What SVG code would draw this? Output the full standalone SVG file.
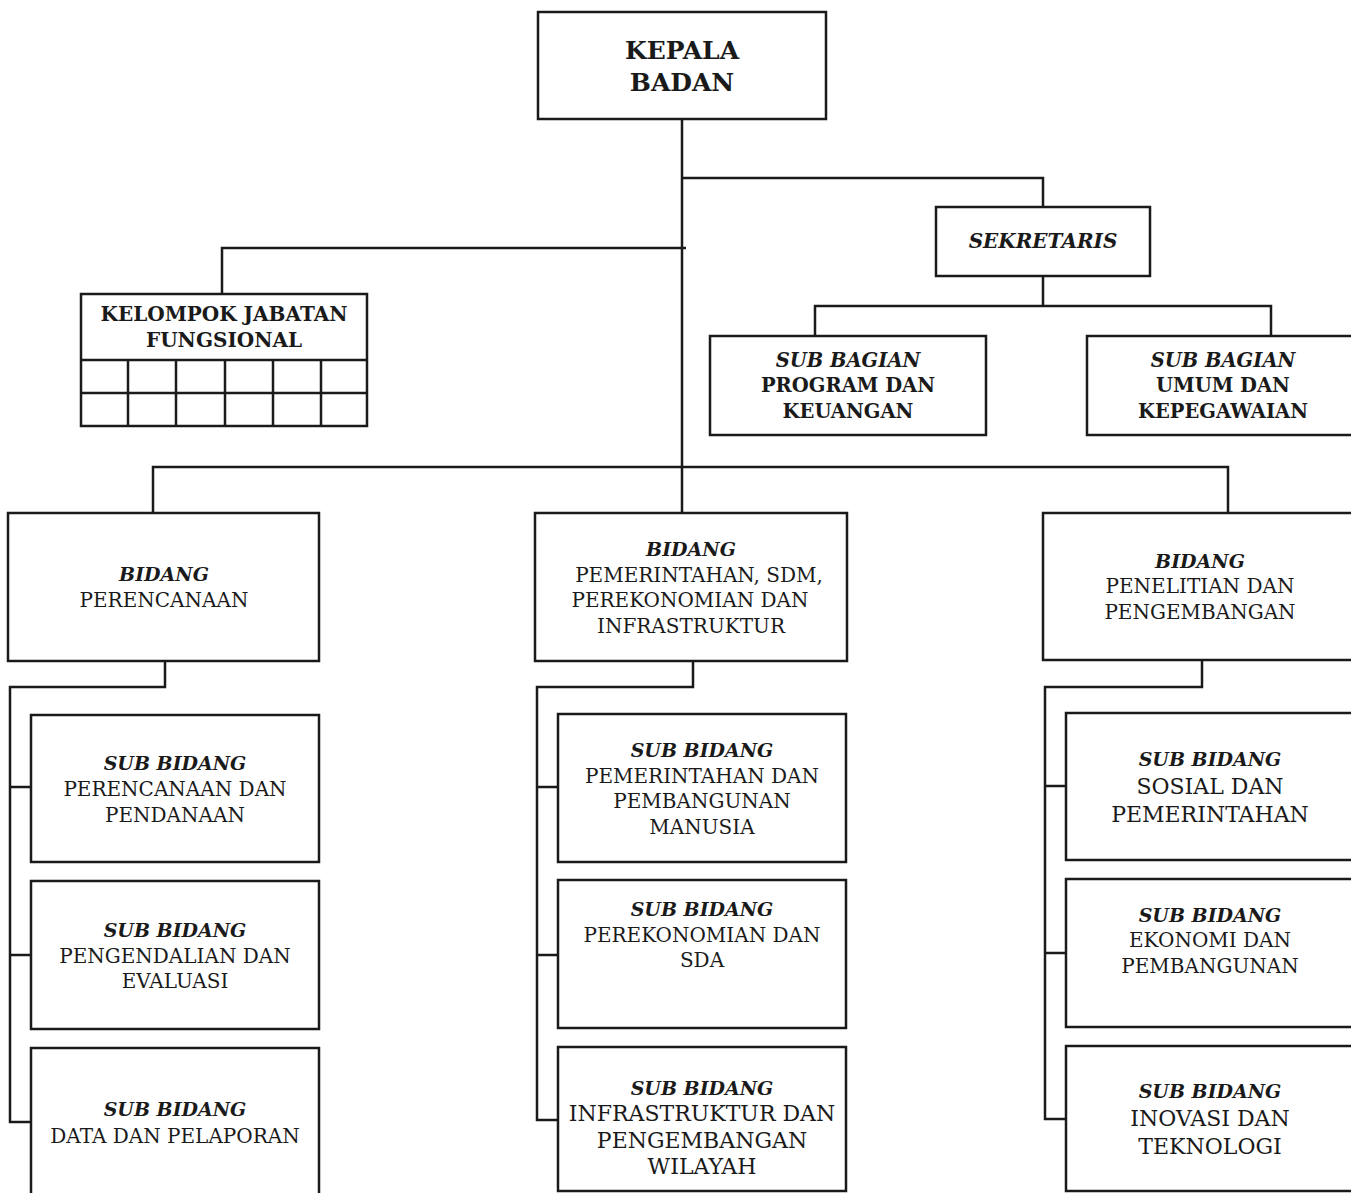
<svg xmlns="http://www.w3.org/2000/svg" width="1351" height="1193" viewBox="0 0 1351 1193">
<style>
.box{fill:#fff;stroke:#1a1a1a;stroke-width:2.5}
.ln{fill:none;stroke:#1a1a1a;stroke-width:2.5}
text{font-family:"DejaVu Serif","Liberation Serif",serif;fill:#1a1a1a;text-anchor:middle}
.b{font-weight:bold}
.bi{font-weight:bold;font-style:italic}
.r{font-size:20px}
.r2{font-size:22px}
.h{font-size:19px}
.hb{font-size:19.5px}
</style>
<rect width="1351" height="1193" fill="#fff"/>
<g id="connectors">
<path class="ln" d="M682 119V513"/>
<path class="ln" d="M682 178H1043V207"/>
<path class="ln" d="M1043 276V306M815 336V306H1271V336"/>
<path class="ln" d="M686 248H222V294"/>
<path class="ln" d="M153 513V467H1228V513"/>
<path class="ln" d="M165 661V687H10V1122H31M10 787H31M10 955H31"/>
<path class="ln" d="M693 661V687H537V1120H558M537 787H558M537 955H558"/>
<path class="ln" d="M1202 660V687H1045V1119H1066M1045 786H1066M1045 953H1066"/>
</g>
<g id="kepala">
<rect class="box" x="538" y="12" width="288" height="107"/>
<text class="b" x="682" y="59" font-size="25">KEPALA</text>
<text class="b" x="682" y="91" font-size="25">BADAN</text>
</g>
<g id="kjf">
<rect class="box" x="81" y="294" width="286" height="132"/>
<path class="ln" d="M81 360H367M81 393H367M128 360V426M176 360V426M225 360V426M273 360V426M321 360V426"/>
<text class="b" font-size="20" x="224" y="321">KELOMPOK JABATAN</text>
<text class="b" font-size="20" x="224" y="347">FUNGSIONAL</text>
</g>
<g id="sekretaris">
<rect class="box" x="936" y="207" width="214" height="69"/>
<text class="bi" font-size="20" x="1043" y="248">SEKRETARIS</text>
</g>
<g id="subbag-program">
<rect class="box" x="710" y="336" width="276" height="99"/>
<text class="bi hb" x="848" y="367">SUB BAGIAN</text>
<text class="b hb" x="848" y="392">PROGRAM DAN</text>
<text class="b hb" x="848" y="418">KEUANGAN</text>
</g>
<g id="subbag-umum">
<rect class="box" x="1087" y="336" width="266" height="99"/>
<text class="bi hb" x="1223" y="367">SUB BAGIAN</text>
<text class="b hb" x="1223" y="392">UMUM DAN</text>
<text class="b hb" x="1223" y="418">KEPEGAWAIAN</text>
</g>
<g id="bidang-perencanaan">
<rect class="box" x="8" y="513" width="311" height="148"/>
<text class="bi h" x="164" y="581">BIDANG</text>
<text class="r" x="164" y="607">PERENCANAAN</text>
</g>
<g id="bidang-pemerintahan">
<rect class="box" x="535" y="513" width="312" height="148"/>
<text class="bi h" x="691" y="556">BIDANG</text>
<text class="r" font-size="20.5" x="699" y="582">PEMERINTAHAN, SDM,</text>
<text class="r" font-size="20.5" x="690" y="607">PEREKONOMIAN DAN</text>
<text class="r" font-size="20.5" x="691" y="633">INFRASTRUKTUR</text>
</g>
<g id="bidang-penelitian">
<rect class="box" x="1043" y="513" width="310" height="147"/>
<text class="bi h" x="1200" y="568">BIDANG</text>
<text class="r" x="1200" y="593">PENELITIAN DAN</text>
<text class="r" x="1200" y="619">PENGEMBANGAN</text>
</g>
<g id="sb-perencanaan-pendanaan">
<rect class="box" x="31" y="715" width="288" height="147"/>
<text class="bi h" x="175" y="770">SUB BIDANG</text>
<text class="r" x="175" y="796">PERENCANAAN DAN</text>
<text class="r" x="175" y="822">PENDANAAN</text>
</g>
<g id="sb-pengendalian">
<rect class="box" x="31" y="881" width="288" height="148"/>
<text class="bi h" x="175" y="937">SUB BIDANG</text>
<text class="r" x="175" y="963">PENGENDALIAN DAN</text>
<text class="r" x="175" y="988">EVALUASI</text>
</g>
<g id="sb-data">
<rect class="box" x="31" y="1048" width="288" height="160"/>
<text class="bi h" x="175" y="1116">SUB BIDANG</text>
<text class="r" x="175" y="1143">DATA DAN PELAPORAN</text>
</g>
<g id="sb-pemerintahan">
<rect class="box" x="558" y="714" width="288" height="148"/>
<text class="bi h" x="702" y="757">SUB BIDANG</text>
<text class="r" x="702" y="783">PEMERINTAHAN DAN</text>
<text class="r" x="702" y="808">PEMBANGUNAN</text>
<text class="r" x="702" y="834">MANUSIA</text>
</g>
<g id="sb-perekonomian">
<rect class="box" x="558" y="880" width="288" height="148"/>
<text class="bi h" x="702" y="916">SUB BIDANG</text>
<text class="r" x="702" y="942">PEREKONOMIAN DAN</text>
<text class="r" x="702" y="967">SDA</text>
</g>
<g id="sb-infrastruktur">
<rect class="box" x="558" y="1047" width="288" height="144"/>
<text class="bi h" x="702" y="1095">SUB BIDANG</text>
<text class="r2" font-size="21" x="702" y="1121">INFRASTRUKTUR DAN</text>
<text class="r2" font-size="21" x="702" y="1148">PENGEMBANGAN</text>
<text class="r2" font-size="21" x="702" y="1174">WILAYAH</text>
</g>
<g id="sb-sosial">
<rect class="box" x="1066" y="713" width="287" height="147"/>
<text class="bi h" x="1210" y="766">SUB BIDANG</text>
<text class="r2" x="1210" y="794">SOSIAL DAN</text>
<text class="r2" x="1210" y="822">PEMERINTAHAN</text>
</g>
<g id="sb-ekonomi">
<rect class="box" x="1066" y="879" width="287" height="148"/>
<text class="bi h" x="1210" y="922">SUB BIDANG</text>
<text class="r" x="1210" y="947">EKONOMI DAN</text>
<text class="r" x="1210" y="973">PEMBANGUNAN</text>
</g>
<g id="sb-inovasi">
<rect class="box" x="1066" y="1046" width="287" height="145"/>
<text class="bi h" x="1210" y="1098">SUB BIDANG</text>
<text class="r2" x="1210" y="1126">INOVASI DAN</text>
<text class="r2" x="1210" y="1154">TEKNOLOGI</text>
</g>
</svg>
